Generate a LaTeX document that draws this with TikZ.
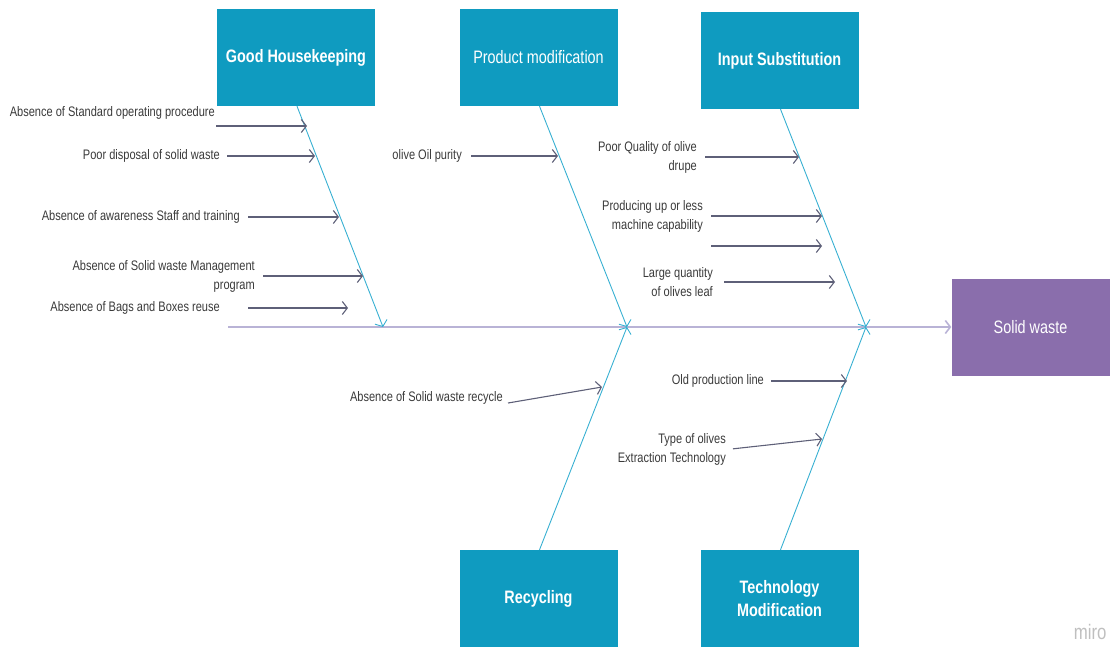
\documentclass[tikz,border=0pt]{standalone}
\usepackage{fontspec}
\setmainfont{Liberation Sans}[FakeStretch=0.8]
\usetikzlibrary{arrows.meta,positioning}
\definecolor{boxblue}{HTML}{0F9BC0}
\definecolor{effectviolet}{HTML}{8A6EAC}
\definecolor{bonecyan}{HTML}{38B0D2}
\definecolor{spinelilac}{HTML}{B9B3D6}
\definecolor{causegray}{HTML}{5E6078}
\definecolor{labelgray}{HTML}{3A3A3A}

\begin{document}
\begin{tikzpicture}[x=1pt,y=-1pt,
    category/.style={fill=boxblue,text=white,minimum width=158pt,minimum height=97pt,
        inner sep=0pt,align=center,font=\fontsize{18}{23}\selectfont\bfseries},
    effect/.style={category,fill=effectviolet,font=\fontsize{18}{23}\selectfont},
    cause/.style={text=labelgray,anchor=east,align=right,inner sep=1pt,
        font=\fontsize{13.8}{19}\selectfont},
    bone/.style={draw=bonecyan,line width=0.9pt,-{Straight Barb[length=5pt,width=13pt]}},
    arr/.style={draw=causegray,line width=1.1pt,-{Straight Barb[length=5pt,width=13pt]}},
    spine/.style={draw=spinelilac,line width=1.6pt,-{Straight Barb[length=5pt,width=13pt]}}]
        \useasboundingbox (0,0) rectangle (1116,648);

        % categories and effect
        \node[category] (gh) at (296,57.5) {Good Housekeeping};
        \node[category,font=\fontsize{18}{23}\selectfont] (pm) at (538.5,57.5) {Product modification};
        \node[category] (is) at (779.5,60.5) {Input Substitution};
        \node[category] (rc) at (538.5,598.5) {Recycling};
        \node[category] (tm) at (779.5,598.5) {Technology\\Modification};
        \node[effect] (sw) at (1030.5,327) {Solid waste};

        % spine and bones
        \coordinate (spinestart) at (228,327);
        \coordinate (ghtip) at (383,327);
        \coordinate (pmtip) at (627,327);
        \coordinate (istip) at (866,327);
        \draw[spine] (spinestart) -- (sw.west);
        \draw[bone] (gh.south) ++(1,0) -- (ghtip);
        \draw[bone] (pm.south) ++(1,0) -- (pmtip);
        \draw[bone] (is.south) ++(1,0) -- (istip);
        \draw[bone] (rc.north) ++(1,0) -- (pmtip);
        \draw[bone] (tm.north) ++(1,0) -- (istip);

        % Good Housekeeping causes
        \node[cause] (c1) at (216,113) {Absence of Standard operating procedure};
        \node[cause] (c2) at (221,156) {Poor disposal of solid waste};
        \node[cause] (c3) at (241,217) {Absence of awareness Staff and training};
        \node[cause] (c4) at (256,276) {Absence of Solid waste Management\\program};
        \node[cause] (c5) at (221,308) {Absence of Bags and Boxes reuse};
        \coordinate (c1tip) at (307,126);
        \coordinate (c2tip) at (315,156);
        \coordinate (c3tip) at (339,217);
        \coordinate (c4tip) at (363,276);
        \coordinate (c5tip) at (348,308);
        \draw[arr] (c1.east |- c1tip) -- (c1tip);
        \draw[arr,shorten <=6pt] (c2.east) -- (c2tip);
        \draw[arr,shorten <=7pt] (c3.east) -- (c3tip);
        \draw[arr,shorten <=7pt] (c4.east) -- (c4tip);
        \draw[arr,shorten <=27pt] (c5.east) -- (c5tip);

        % Product modification causes
        \node[cause] (c6) at (463,156) {olive Oil purity};
        \coordinate (c6tip) at (558,156);
        \draw[arr,shorten <=8pt] (c6.east) -- (c6tip);

        % Input Substitution causes
        \node[cause] (c7) at (698,157) {Poor Quality of olive\\drupe};
        \node[cause] (c8) at (704,216) {Producing up or less\\machine capability};
        \node[cause] (c10) at (714,282) {Large quantity\\of olives leaf};
        \coordinate (c7tip) at (799,157);
        \coordinate (c8tip) at (822,216);
        \coordinate (c9start) at (711,246);
        \coordinate (c9tip) at (822,246);
        \coordinate (c10tip) at (835,282);
        \draw[arr,shorten <=7pt] (c7.east) -- (c7tip);
        \draw[arr,shorten <=7pt] (c8.east) -- (c8tip);
        \draw[arr] (c9start) -- (c9tip);
        \draw[arr,shorten <=10pt] (c10.east) -- (c10tip);

        % Recycling causes
        \node[cause] (c11) at (504,398) {Absence of Solid waste recycle};
        \coordinate (c11start) at (508,403);
        \coordinate (c11tip) at (602,387);
        \draw[arr] (c11start) -- (c11tip);

        % Technology Modification causes
        \node[cause] (c12) at (765,381) {Old production line};
        \node[cause] (c13) at (727,449.5) {Type of olives\\Extraction Technology};
        \coordinate (c12tip) at (847,381);
        \coordinate (c13tip) at (822,439);
        \draw[arr,shorten <=6pt] (c12.east) -- (c12tip);
        \draw[arr,shorten <=6pt] (c13.east) -- (c13tip);

        \node[text=black!25,font=\fontsize{21}{24}\selectfont,anchor=east] (miro) at (1110,632) {miro};
\end{tikzpicture}
\end{document}
